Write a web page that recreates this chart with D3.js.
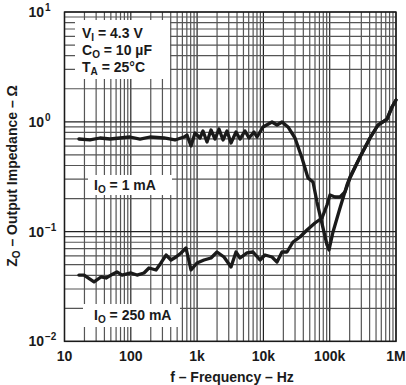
<!DOCTYPE html>
<html><head><meta charset="utf-8">
<script src="https://cdn.jsdelivr.net/npm/d3@7"></script>
<style>
body{margin:0;background:#fff;}
text{font-family:"Liberation Sans",Arial,Helvetica,sans-serif;font-weight:bold;fill:#1a1a1a;}
</style></head>
<body><svg id="c" width="406" height="385"></svg>
<script>
// Data (frequency in Hz, impedance in ohms)
const freq1mA = [16.5,24.2,34.3,48.6,68.7,97.2,137.6,194.8,317,464,634,704,809,930,1106,1227,1410,1621,1862,2140,2459,2825,3246,3862,4438,5279,6067,7216,8008,9862,13480,16040,19080,23500,29970,38200,47070,55990,64330,71400,79240,91070,97590,112100,143000,182400,202400,286400,405500,535200,731700,870300,1000000];
const z1mA = [0.697,0.683,0.712,0.697,0.712,0.727,0.697,0.727,0.712,0.683,0.727,0.758,0.602,0.791,0.712,0.825,0.655,0.842,0.697,0.860,0.683,0.825,0.641,0.807,0.697,0.825,0.712,0.807,0.727,0.897,0.996,0.935,0.996,0.897,0.712,0.468,0.308,0.283,0.186,0.1416,0.108,0.0755,0.068,0.0992,0.164,0.266,0.314,0.478,0.712,0.935,1.06,1.364,1.58];
const freq250mA = [16.5,19.7,27.9,35.5,42.3,50.3,61.9,73.7,100.7,124,158,188,240,285,340,404,481,572,680,809,996,1271,1621,1996,2545,3246,3862,4438,5657,6969,8887,10570,13480,16040,19080,22700,27960,35650,45470,60010,76550,91070,101000,120200,143000,170100,202400,286400,405500,535200,731700,870300,1000000];
const z250mA = [0.0402,0.0402,0.0348,0.0386,0.0378,0.0402,0.0429,0.0402,0.0420,0.0402,0.0420,0.0466,0.0447,0.0518,0.0612,0.0551,0.0587,0.0639,0.0709,0.0447,0.0518,0.0551,0.0575,0.0652,0.0587,0.0476,0.0652,0.0575,0.0639,0.0652,0.0551,0.0612,0.0587,0.0528,0.0652,0.0652,0.0804,0.0893,0.1034,0.1198,0.1330,0.1747,0.2154,0.2066,0.2066,0.2294,0.308,0.478,0.712,0.935,1.06,1.364,1.58];
const xTickLabels = ["10","100","1k","10k","100k","1M"];
const xTickValues = [10,100,1e3,1e4,1e5,1e6];
const yTickExps = ["1","0","\u22121","\u22122"];
const yTickValues = [10,1,0.1,0.01];

const svg = d3.select("#c");
const x = d3.scaleLog().domain([10,1e6]).range([64.5,396]);
const y = d3.scaleLog().domain([0.01,10]).range([341.4,12]);

// grid
const g = svg.append("g");
const xt = x.ticks();
const yt = y.ticks();
const isMajor = v => Math.abs(Math.log10(v) - Math.round(Math.log10(v))) < 1e-6;
g.selectAll("line.vx").data(xt).join("line")
  .attr("x1",d=>x(d)).attr("x2",d=>x(d)).attr("y1",y(10)).attr("y2",y(0.01))
  .attr("stroke",d=>isMajor(d)?"#222":"#555").attr("stroke-width",1.2);
g.selectAll("line.hy").data(yt).join("line")
  .attr("y1",d=>y(d)).attr("y2",d=>y(d)).attr("x1",x(10)).attr("x2",x(1e6))
  .attr("stroke",d=>isMajor(d)?"#222":"#555").attr("stroke-width",1.2);

// white label boxes
const boxes = [[75,20,95,59],[88,175,84,20],[83,304,97,23]];
svg.selectAll("rect.b").data(boxes).join("rect")
  .attr("x",d=>d[0]).attr("y",d=>d[1]).attr("width",d=>d[2]).attr("height",d=>d[3]).attr("fill","#fff");

// frame
svg.append("rect").attr("x",x(10)).attr("y",y(10)).attr("width",x(1e6)-x(10)).attr("height",y(0.01)-y(10))
  .attr("fill","none").attr("stroke","#1a1a1a").attr("stroke-width",1.4);

// curves
const line = d3.line().x(d=>x(d[0])).y(d=>y(d[1])).curve(d3.curveLinear);
[[freq1mA,z1mA],[freq250mA,z250mA]].forEach(([f,z])=>{
  svg.append("path").datum(f.map((v,i)=>[v,z[i]])).attr("d",line)
    .attr("fill","none").attr("stroke","#1a1a1a").attr("stroke-width",3.3).attr("stroke-linejoin","round").attr("stroke-linecap","round");
});

// x tick labels
svg.selectAll("text.xt").data(xTickValues).join("text")
  .attr("x",d=>x(d)).attr("y",361).attr("text-anchor","middle").attr("font-size",14)
  .text((d,i)=>xTickLabels[i]);

// y tick labels
yTickValues.forEach((v,i)=>{
  svg.append("text").attr("x",44).attr("y",y(v)+5).attr("text-anchor","end").attr("font-size",14).text("10");
  svg.append("text").attr("x",45).attr("y",y(v)-1).attr("text-anchor","start").attr("font-size",10).text(yTickExps[i]);
});

// axis titles
svg.append("text").attr("x",232).attr("y",382).attr("text-anchor","middle").attr("font-size",14).text("f \u2013 Frequency \u2013 Hz");
const yt2 = svg.append("text").attr("transform","translate(17,176) rotate(-90)").attr("text-anchor","middle").attr("font-size",14);
yt2.append("tspan").text("Z");
yt2.append("tspan").attr("font-size",10).attr("dy",3).text("O");
yt2.append("tspan").attr("dy",-3).text(" \u2013 Output Impedance \u2013 \u03A9");

// annotations
function sub(xp, yp, main, s, rest){
  const t = svg.append("text").attr("x",xp).attr("y",yp).attr("font-size",14);
  t.append("tspan").text(main);
  t.append("tspan").attr("font-size",10).attr("dy",3).text(s);
  t.append("tspan").attr("dy",-3).text(rest);
}
sub(82,38,"V","I"," = 4.3 V");
sub(82,55,"C","O"," = 10 \u00B5F");
sub(82,72,"T","A"," = 25\u00B0C");
sub(94,190,"I","O"," = 1 mA");
sub(94,320,"I","O"," = 250 mA");
</script></body></html>
